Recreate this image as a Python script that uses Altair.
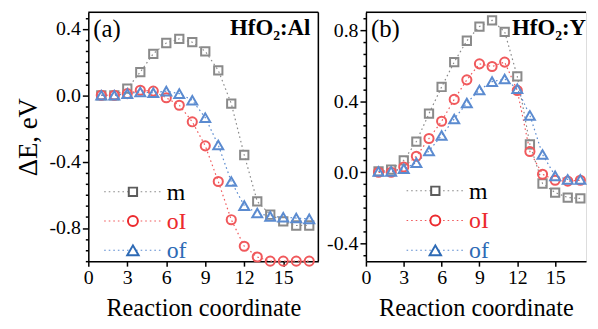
import altair as alt
import pandas as pd

# ---------------- data ----------------
x = list(range(1, 18))
series = ["m", "oI", "of"]
colors = ["#5c5c5c", "#ec2a2e", "#2d6ab5"]
line_colors = ["#8a8a8a", "#f0595c", "#5b8bd0"]
text_colors = ["#000000", "#ec2a2e", "#2d6ab5"]
shapes = ["square", "circle", "triangle-up"]
sizes = [70, 100, 130]

a_m = [0.0, 0.0, 0.04, 0.14, 0.25, 0.315, 0.34, 0.32, 0.265, 0.15, -0.05, -0.36, -0.64, -0.72, -0.76, -0.785, -0.785]
a_oI = [0.0, 0.0, 0.01, 0.03, 0.025, -0.015, -0.06, -0.16, -0.305, -0.52, -0.75, -0.91, -0.975, -1.0, -1.0, -1.0, -1.0]
a_of = [0.0, 0.0, 0.01, 0.02, 0.015, 0.025, 0.01, -0.03, -0.135, -0.30, -0.52, -0.665, -0.71, -0.73, -0.735, -0.74, -0.745]

b_m = [0.005, 0.015, 0.067, 0.173, 0.33, 0.48, 0.62, 0.74, 0.82, 0.855, 0.79, 0.54, 0.157, -0.063, -0.114, -0.142, -0.147]
b_oI = [0.0, 0.0, 0.03, 0.09, 0.19, 0.287, 0.41, 0.52, 0.61, 0.595, 0.62, 0.46, 0.117, -0.011, -0.045, -0.05, -0.045]
b_of = [0.005, 0.005, 0.02, 0.054, 0.12, 0.207, 0.30, 0.39, 0.463, 0.51, 0.525, 0.47, 0.32, 0.10, -0.02, -0.04, -0.04]

x_ticks = [0, 3, 6, 9, 12, 15]
FONT = "Liberation Serif"

H = 251
WA = 232
WB = 222
XMAX_A = 17.7
XMAX_B = 17.45


def long_df(vals_by_series):
    rows = []
    for s, vals in zip(series, vals_by_series):
        for xi, v in zip(x, vals):
            rows.append({"x": xi, "y": v, "s": s})
    return pd.DataFrame(rows)


def y_axis(lo, hi, title):
    step = 0.4 / 6
    k0 = int(round(lo / step)) - 1
    k1 = int(round(hi / step)) + 1
    vals = [round(k * step, 5) for k in range(k0, k1 + 1) if lo - 1e-9 <= k * step <= hi + 1e-9]
    major = "abs(datum.value/0.4 - round(datum.value/0.4)) < 0.001"
    return alt.Axis(
        values=vals,
        title=title if title else "",
        labelExpr=f"{major} ? replace(format(datum.value, '.1f'), '\u2212', '-') : ''",
        tickSize={"condition": {"test": major, "value": 6}, "value": 3},
        labelPadding=2,
        labelFontSize={"condition": {"test": major, "value": 20}, "value": 1},
        labelFont=FONT,
        labelColor="black",
        labelFlush=False,
        labelOverlap=False,
        tickColor="black",
        tickWidth=1.5,
        domainColor="black",
        domainWidth=1.5,
        grid=False,
        titleFont=FONT,
        titleFontSize=27,
        titleFontWeight="normal",
        titleColor="black",
        titlePadding=7,
    )


x_axis = alt.Axis(
    values=x_ticks,
    title="Reaction coordinate",
    tickSize=5,
    tickColor="black",
    tickWidth=1.5,
    domainColor="black",
    domainWidth=1.5,
    labelPadding=2,
    labelFontSize=20,
    labelFont=FONT,
    labelColor="black",
    labelFlush=False,
    labelOverlap=False,
    grid=False,
    titleFont=FONT,
    titleFontSize=24.5,
    titleFontWeight="normal",
    titleColor="black",
    titlePadding=9,
)


def panel(vals_by_series, ydom, ytitle, tag, name, name_right, leg, W, xmax, right_border):
    df = long_df(vals_by_series)
    base = alt.Chart(df)
    xs = alt.Scale(domain=[0, xmax], nice=False, zero=False)
    ys = alt.Scale(domain=ydom, nice=False, zero=False)
    ya = y_axis(ydom[0], ydom[1], ytitle)
    xenc = alt.X("x:Q", scale=xs, axis=x_axis)
    yenc = alt.Y("y:Q", scale=ys, axis=ya)
    lines = base.mark_line(strokeDash=[1.6, 3], strokeWidth=1.2).encode(
        x=xenc, y=yenc,
        color=alt.Color("s:N", scale=alt.Scale(domain=series, range=line_colors), legend=None),
        detail="s:N",
    )
    pts = base.mark_point(filled=False, strokeWidth=2, opacity=1).encode(
        x=xenc, y=yenc,
        color=alt.Color("s:N", scale=alt.Scale(domain=series, range=colors), legend=None),
        shape=alt.Shape("s:N", scale=alt.Scale(domain=series, range=shapes), legend=None),
        size=alt.Size("s:N", scale=alt.Scale(domain=series, range=sizes), legend=None),
    )
    layers = [lines, pts]
    # frame lines (top, and right for panel a)
    fd = alt.Chart(pd.DataFrame({"f": [0]}))
    layers.append(fd.mark_rule(color="black", strokeWidth=1.5).encode(
        x=alt.value(0), x2=alt.value(W), y=alt.value(0)))
    if right_border:
        layers.append(fd.mark_rule(color="black", strokeWidth=1.5).encode(
            x=alt.value(W), y=alt.value(0), y2=alt.value(H)))
    # legend (manual, inside the plot)
    lx0, lx1, lxm, ltx, ly0, ldy = leg
    for i, s in enumerate(series):
        d = alt.Chart(pd.DataFrame({"s": [s]}))
        yy = ly0 + i * ldy
        layers.append(d.mark_rule(strokeDash=[1.6, 3], strokeWidth=1.2, color=line_colors[i]).encode(
            x=alt.value(lx0), x2=alt.value(lx1), y=alt.value(yy)))
        layers.append(d.mark_point(shape=shapes[i], size=sizes[i], strokeWidth=2, color=colors[i],
                                   filled=False, fill="white", fillOpacity=1, opacity=1).encode(
            x=alt.value(lxm), y=alt.value(yy)))
        layers.append(d.mark_text(align="left", baseline="middle", font=FONT, fontSize=24,
                                  color=text_colors[i], dy=1).encode(
            x=alt.value(ltx), y=alt.value(yy), text="s:N"))
    td = alt.Chart(pd.DataFrame({"t": [tag], "n": [name]}))
    layers.append(td.mark_text(align="left", baseline="middle", font=FONT, fontSize=25, color="black").encode(
        x=alt.value(5), y=alt.value(17), text="t:N"))
    layers.append(td.mark_text(align="right", baseline="middle", font=FONT, fontSize=23,
                               fontWeight="bold", color="black").encode(
        x=alt.value(name_right), y=alt.value(16), text="n:N"))
    return alt.layer(*layers).properties(width=W, height=H)


pa = panel([a_m, a_oI, a_of], [-1.0, 0.5], "\u0394E, eV", "(a)", "HfO\u2082:Al", 224,
           (16, 73, 45, 79, 181, 29.5), WA, XMAX_A, True)
pb = panel([b_m, b_oI, b_of], [-0.5, 0.9], None, "(b)", "HfO\u2082:Y", 222,
           (41, 98, 70, 104, 180, 30), WB, XMAX_B, False)

chart = alt.hconcat(pa, pb, spacing=48, bounds="flush").properties(
    padding={"left": 5, "top": 1, "right": 0, "bottom": 0}
).configure_view(stroke=None).configure_axis(
    labelFont=FONT, titleFont=FONT
).configure_text(font=FONT).configure(background="white")

chart.save("out.html", embed_options={"renderer": "svg", "actions": False})
